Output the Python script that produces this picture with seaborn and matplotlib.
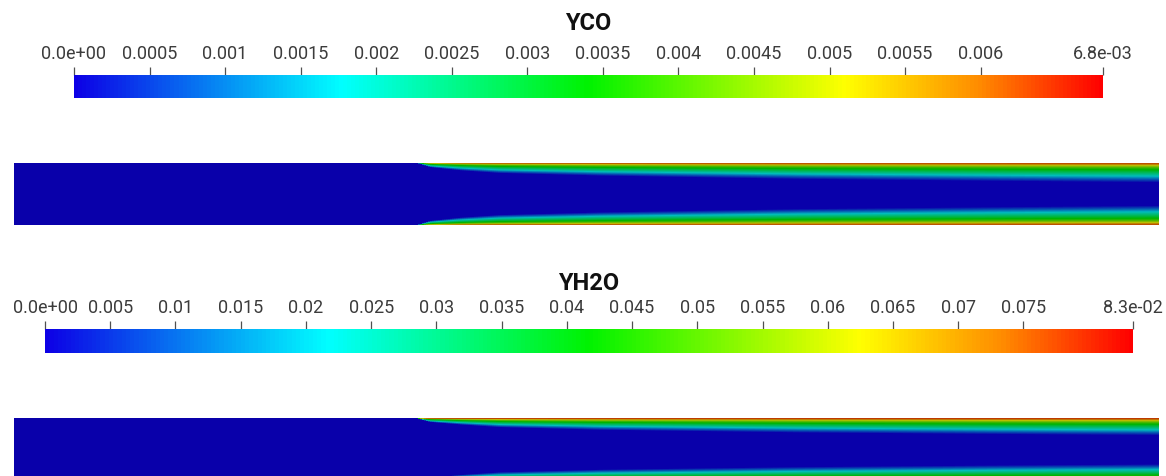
import numpy as np
import matplotlib
matplotlib.use("Agg")
import matplotlib.pyplot as plt
import seaborn as sns
from matplotlib.colors import LinearSegmentedColormap, Normalize
from matplotlib.cm import ScalarMappable

sns.set_theme(style="white")
plt.rcParams['font.family'] = ['Roboto', 'DejaVu Sans']

# ---------------- data ----------------
yco_title = "YCO"
yco_max = 0.00681
yco_ticks = [0.0, 0.0005, 0.001, 0.0015, 0.002, 0.0025, 0.003, 0.0035,
             0.004, 0.0045, 0.005, 0.0055, 0.006, 0.00681]
yco_labels = ["0.0e+00", "0.0005", "0.001", "0.0015", "0.002", "0.0025", "0.003",
              "0.0035", "0.004", "0.0045", "0.005", "0.0055", "0.006", "6.8e-03"]

yh2o_title = "YH2O"
yh2o_max = 0.0834
yh2o_ticks = [0.0, 0.005, 0.01, 0.015, 0.02, 0.025, 0.03, 0.035, 0.04, 0.045,
              0.05, 0.055, 0.06, 0.065, 0.07, 0.075, 0.0834]
yh2o_labels = ["0.0e+00", "0.005", "0.01", "0.015", "0.02", "0.025", "0.03", "0.035",
               "0.04", "0.045", "0.05", "0.055", "0.06", "0.065", "0.07", "0.075", "8.3e-02"]

# stations along the channel (fraction of channel length); inlet block ends at 0.351
station_x = [0.0, 0.351, 0.363, 0.390, 0.424, 0.512, 0.686, 0.861, 1.0]
# wall-layer thickness (fraction of channel height) at each station
yco_thickness = [0.0, 0.0, 0.07, 0.12, 0.16, 0.20, 0.25, 0.28, 0.30]
yh2o_thickness = [0.0, 0.0, 0.06, 0.10, 0.14, 0.18, 0.22, 0.245, 0.26]
# profile across the layer: distance from wall / thickness -> fraction of max value
profile_eta = [0.0, 0.08, 0.16, 0.28, 0.45, 0.70, 0.88, 1.05]
profile_frac = [0.95, 0.86, 0.72, 0.57, 0.44, 0.27, 0.12, 0.0]

# ---------------- colour maps ----------------
nodes = [0.0, 0.26, 0.5, 0.75, 0.88, 1.0]
node_colors = [(0.05, 0.0, 0.90), (0.0, 1.0, 1.0), (0.0, 0.95, 0.0),
               (1.0, 1.0, 0.0), (1.0, 0.55, 0.0), (1.0, 0.0, 0.0)]
bar_cmap = LinearSegmentedColormap.from_list("pv_rainbow", list(zip(nodes, node_colors)))
shade = 0.74
field_cmap = LinearSegmentedColormap.from_list(
    "pv_rainbow_lit", list(zip(nodes, [tuple(c * shade for c in col) for col in node_colors])))

W, H = 1166, 477
fig = plt.figure(figsize=(W / 100, H / 100), dpi=100)
fig.patch.set_facecolor("white")


def px_axes(x0, y0, x1, y1):
    return fig.add_axes([x0 / W, 1 - y1 / H, (x1 - x0) / W, (y1 - y0) / H])


def draw_bar(x0, y0, x1, y1, vmax, ticks, labels, title, title_y):
    cax = px_axes(x0, y0, x1, y1)
    sm = ScalarMappable(norm=Normalize(0, vmax), cmap=bar_cmap)
    cb = fig.colorbar(sm, cax=cax, orientation="horizontal", ticklocation="top")
    cb.outline.set_visible(False)
    cb.set_ticks(ticks)
    cb.set_ticklabels(labels)
    cax.tick_params(axis="x", direction="out", length=6, width=0.9, color="#505050",
                    labelsize=13, labelcolor="#3c3c3c", pad=3.5)
    cax.minorticks_off()
    fig.text((x0 + x1) / 2 / W, 1 - title_y / H, title, ha="center", va="center",
             fontsize=17, fontweight="bold", color="#111111")


def field_values(thickness, vmax, nx=573, ny=126):
    xs = (np.arange(nx) + 0.5) / nx
    ys = (np.arange(ny) + 0.5) / ny
    delta = np.interp(xs, station_x, thickness)
    dist = np.minimum(ys, 1 - ys)[:, None]
    with np.errstate(divide="ignore", invalid="ignore"):
        eta = np.where(delta[None, :] > 0, dist / delta[None, :], 10.0)
    return np.interp(eta, profile_eta, profile_frac, right=0.0) * vmax


def draw_field(x0, y0, x1, y1, thickness, vmax):
    ax = px_axes(x0, y0, x1, y1)
    data = field_values(thickness, vmax)
    sns.heatmap(data, ax=ax, cmap=field_cmap, vmin=0, vmax=vmax, cbar=False,
                xticklabels=False, yticklabels=False, rasterized=True)
    ax.set_axis_off()


draw_bar(74, 76, 1103, 99, yco_max, yco_ticks, yco_labels, yco_title, 24)
draw_field(14, 164, 1159, 226, yco_thickness, yco_max)
draw_bar(45, 330, 1133, 354, yh2o_max, yh2o_ticks, yh2o_labels, yh2o_title, 283)
draw_field(14, 419, 1159, 482, yh2o_thickness, yh2o_max)

fig.savefig("out.png", dpi=100, facecolor="white")
